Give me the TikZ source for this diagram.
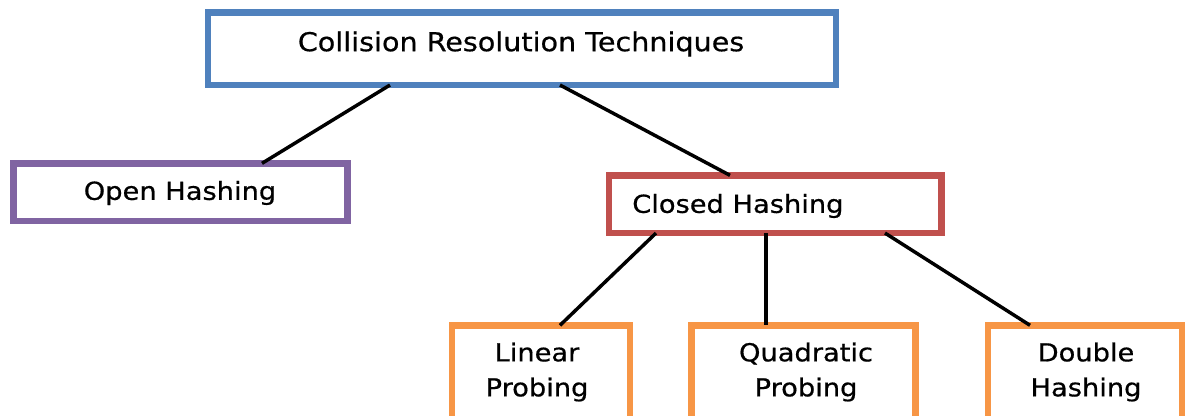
\documentclass[tikz,border=0pt]{standalone}
\usepackage{fontspec}
\newfontfamily\dfont{DejaVu Sans}[FakeStretch=1.1, FakeBold=0.6]
\usetikzlibrary{calc}
\definecolor{cblue}{HTML}{4F81BD}
\definecolor{cpurple}{HTML}{8064A2}
\definecolor{cred}{HTML}{C0504D}
\definecolor{corange}{HTML}{F79646}
\tikzset{
  box/.style={draw=#1, line width=4.9pt, rectangle, outer sep=0pt, inner sep=0pt, fill=white},
  lbl/.style={inner sep=0pt, font=\dfont\fontsize{18.6}{26.25}\selectfont, align=center},
  conn/.style={line width=2.6pt, black}
}
\begin{document}
\begin{tikzpicture}[x=0.75pt, y=-0.75pt]
\useasboundingbox (0,0) rectangle (1186,415);
% boxes
\node[box=cblue, minimum width=471pt, minimum height=54.4pt] (top) at (522,48.75) {};
\node[box=cpurple, minimum width=250.4pt, minimum height=43.3pt] (open) at (180.6,192.2) {};
\node[box=cred, minimum width=249.5pt, minimum height=43.3pt] (closed) at (775.3,204.2) {};
\node[box=corange, minimum width=133.7pt, minimum height=75pt] (lin) at (540.9,375.3) {};
\node[box=corange, minimum width=168pt, minimum height=75pt] (quad) at (803.6,375.3) {};
\node[box=corange, minimum width=145.5pt, minimum height=75pt] (dbl) at (1085,375.3) {};
% connectors
\draw[conn] ($(top.south)+(-132,0)$) -- ($(open.north)+(81.4,0)$);
\draw[conn] ($(top.south)+(38,0)$) -- ($(closed.north)+(-45.3,0)$);
\draw[conn] ($(closed.south)+(-119.3,0)$) -- ($(lin.north)+(19.1,0)$);
\draw[conn] ($(closed.south)+(-9.3,0)$) -- ($(quad.north)+(-37.6,0)$);
\draw[conn] ($(closed.south)+(109.7,0)$) -- ($(dbl.north)+(-55,0)$);
% labels
\node[lbl, font=\dfont\fontsize{19.5}{26.25}\selectfont] (ttop) at (521,44) {Collision Resolution Techniques};
\node[lbl] (topen) at (180,193) {Open Hashing};
\node[lbl, anchor=west] (tclosed) at (632,206) {Closed Hashing};
\node[lbl] (tlin) at (537,372) {Linear\\Probing};
\node[lbl] (tquad) at (806,372) {Quadratic\\Probing};
\node[lbl] (tdbl) at (1086,372) {Double\\Hashing};
\end{tikzpicture}
\end{document}
